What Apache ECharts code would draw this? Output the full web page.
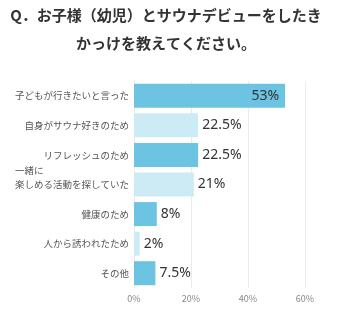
<!DOCTYPE html>
<html>
<head>
<meta charset="utf-8">
<script src="https://cdn.jsdelivr.net/npm/echarts@6/dist/echarts.min.js"></script>
<style>
  html, body { margin: 0; padding: 0; background: #fff; }
  #chart { width: 339px; height: 324px; }
</style>
</head>
<body>
<div id="chart"></div>
<script>
// Reasons for a child's first sauna visit (percent of respondents)
const categories = [
  '子どもが行きたいと言った',
  '自身がサウナ好きのため',
  'リフレッシュのため',
  '一緒に\u3000\u3000\u3000\u3000\u3000\u3000\u3000\u3000\u3000\n楽しめる活動を探していた\n',
  '健康のため',
  '人から誘われたため',
  'その他'
];
const values = [53, 22.5, 22.5, 21, 8, 2, 7.5];
const xTicks = [0, 20, 40, 60];

const DARK = '#6cc4e2';
const LIGHT = '#cdebf5';
const FONT = '"Noto Sans CJK JP", "Noto Sans", sans-serif';

const chart = echarts.init(document.getElementById('chart'), null, { renderer: 'canvas' });

const barData = values.map((v, i) => ({
  value: v,
  itemStyle: { color: i % 2 === 0 ? DARK : LIGHT },
  label: i === 0
    ? { position: 'insideRight', distance: 6 }
    : { position: 'right', distance: 4 }
}));

// the two-line label keeps its second line level with the bar
const yData = categories.map((c, i) =>
  i === 3 ? { value: c, textStyle: { lineHeight: 14 } } : c
);

chart.setOption({
  animation: false,
  title: {
    text: 'Q．お子様（幼児）とサウナデビューをしたき\nかっけを教えてください。',
    left: 161,
    top: -4,
    textAlign: 'center',
    textStyle: {
      fontFamily: FONT,
      fontWeight: 'bold',
      fontSize: 15,
      lineHeight: 28,
      color: '#333'
    }
  },
  grid: { left: 134, right: 34, top: 81, bottom: 36 },
  xAxis: {
    type: 'value',
    min: xTicks[0],
    max: xTicks[xTicks.length - 1],
    interval: 20,
    axisLine: { show: false },
    axisTick: { show: false },
    splitLine: { lineStyle: { color: '#ebebeb', width: 1 } },
    axisLabel: {
      formatter: v => v + '%',
      color: '#888',
      fontSize: 9,
      fontFamily: FONT,
      margin: 6
    }
  },
  yAxis: {
    type: 'category',
    inverse: true,
    data: yData,
    axisLine: { show: true, lineStyle: { color: '#ebebeb' } },
    axisTick: { show: false },
    axisLabel: {
      color: '#555',
      fontSize: 9.5,
      fontFamily: FONT,
      margin: 5,
      align: 'right'
    }
  },
  series: [{
    type: 'bar',
    data: barData,
    barWidth: 24,
    label: {
      show: true,
      formatter: p => p.value + '%',
      color: '#333',
      fontSize: 14,
      fontFamily: '"Noto Sans", sans-serif'
    }
  }]
});
</script>
</body>
</html>
